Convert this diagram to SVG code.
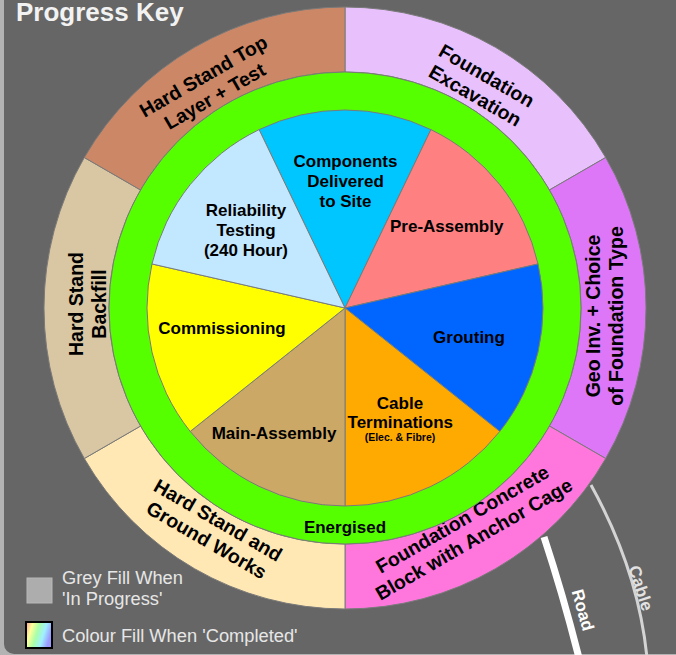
<svg xmlns="http://www.w3.org/2000/svg" width="676" height="655" viewBox="0 0 676 655">
<defs>
<linearGradient id="rainbow" x1="0" y1="0" x2="1" y2="0.3">
<stop offset="0" stop-color="#ff9a9a"/>
<stop offset="0.25" stop-color="#ffff9a"/>
<stop offset="0.5" stop-color="#a8ffa8"/>
<stop offset="0.75" stop-color="#a0f0ff"/>
<stop offset="1" stop-color="#9a9aff"/>
</linearGradient>
<style>
.seg{stroke:#7a7a7a;stroke-width:1;}
.ol{font-family:"Liberation Sans",Arial,sans-serif;font-weight:bold;font-size:19.5px;fill:#000;text-anchor:middle;}
.pl{font-family:"Liberation Sans",Arial,sans-serif;font-weight:bold;font-size:17px;fill:#000;text-anchor:middle;}
.sm{font-family:"Liberation Sans",Arial,sans-serif;font-weight:bold;font-size:10.5px;fill:#000;text-anchor:middle;}
.lg{font-family:"Liberation Sans",Arial,sans-serif;font-size:18.3px;fill:#e6e6e6;}
.rl{font-family:"Liberation Sans",Arial,sans-serif;font-weight:bold;font-size:17px;text-anchor:middle;}
</style>
</defs>
<rect x="0" y="0" width="676" height="655" fill="#b3b3b3"/>
<rect x="4" y="-30" width="720" height="684" rx="10" fill="#666666"/>
<text x="16" y="21" font-family="Liberation Sans,Arial,sans-serif" font-weight="bold" font-size="26" fill="#f2f2f2">Progress Key</text>

<g id="connectors">
<path d="M544,537 Q562.8,594 579,658" fill="none" stroke="#ffffff" stroke-width="7"/>
<path d="M591,485 Q638.5,571 647,658" fill="none" stroke="#d4d4d4" stroke-width="3"/>
<text class="rl" fill="#ffffff" transform="translate(583,610) rotate(74)" y="6">Road</text>
<text class="rl" fill="#e2e2e2" transform="translate(641,588) rotate(72)" y="6">Cable</text>
</g>

<g id="outer-ring">
<g id="foundation-excavation">
<path class="seg" fill="#e8c0fc" d="M345,7 A301,301 0 0 1 605.68,157.5 L549.38,190 A236,236 0 0 0 345,72 Z"/>
<g transform="translate(481,85.5) rotate(30)"><text class="ol" y="-4.5">Foundation</text><text class="ol" y="18.5">Excavation</text></g>
</g>
<g id="geo-inv">
<path class="seg" fill="#dd77f7" d="M605.68,157.5 A301,301 0 0 1 605.68,458.5 L549.38,426 A236,236 0 0 0 549.38,190 Z"/>
<g transform="translate(604.6,316) rotate(-90)"><text class="ol" y="-4.5">Geo Inv. + Choice</text><text class="ol" y="18.5">of Foundation Type</text></g>
</g>
<g id="foundation-concrete">
<path class="seg" fill="#ff77dd" d="M605.68,458.5 A301,301 0 0 1 345,609 L345,544 A236,236 0 0 0 549.38,426 Z"/>
<g transform="translate(468,529) rotate(-30)"><text class="ol" y="-4.5">Foundation Concrete</text><text class="ol" y="18.5">Block with Anchor Cage</text></g>
</g>
<g id="hard-stand-ground-works">
<path class="seg" fill="#ffe8b4" d="M345,609 A301,301 0 0 1 84.32,458.5 L140.62,426 A236,236 0 0 0 345,544 Z"/>
<g transform="translate(212.5,530) rotate(30)"><text class="ol" y="-4.5">Hard Stand and</text><text class="ol" y="18.5">Ground Works</text></g>
</g>
<g id="hard-stand-backfill">
<path class="seg" fill="#d9c6a2" d="M84.32,458.5 A301,301 0 0 1 84.32,157.5 L140.62,190 A236,236 0 0 0 140.62,426 Z"/>
<g transform="translate(87,304) rotate(-90)"><text class="ol" y="-4.5">Hard Stand</text><text class="ol" y="18.5">Backfill</text></g>
</g>
<g id="hard-stand-top">
<path class="seg" fill="#cc8866" d="M84.32,157.5 A301,301 0 0 1 345,7 L345,72 A236,236 0 0 0 140.62,190 Z"/>
<g transform="translate(209,86) rotate(-30)"><text class="ol" y="-4.5">Hard Stand Top</text><text class="ol" y="18.5">Layer + Test</text></g>
</g>
</g>

<g id="energised">
<circle class="seg" cx="345" cy="308" r="236" fill="#55ff00"/>
<text class="pl" x="345" y="533">Energised</text>
</g>

<g id="inner-pie">
<g id="components">
<path class="seg" fill="#00c6ff" d="M345,308 L259.09,129.61 A198,198 0 0 1 430.91,129.61 Z"/>
<text class="pl" x="345.5" y="167">Components</text>
<text class="pl" x="345.5" y="187">Delivered</text>
<text class="pl" x="345.5" y="207">to Site</text>
</g>
<g id="pre-assembly">
<path class="seg" fill="#ff8080" d="M345,308 L430.91,129.61 A198,198 0 0 1 538.04,263.94 Z"/>
<text class="pl" x="446.7" y="232">Pre-Assembly</text>
</g>
<g id="grouting">
<path class="seg" fill="#0066ff" d="M345,308 L538.04,263.94 A198,198 0 0 1 499.8,431.45 Z"/>
<text class="pl" x="469" y="342.5">Grouting</text>
</g>
<g id="cable-terminations">
<path class="seg" fill="#ffaa00" d="M345,308 L499.8,431.45 A198,198 0 0 1 345,506 Z"/>
<text class="pl" x="400" y="409">Cable</text>
<text class="pl" x="400.3" y="428">Terminations</text>
<text class="sm" x="400" y="441">(Elec. &amp; Fibre)</text>
</g>
<g id="main-assembly">
<path class="seg" fill="#cca866" d="M345,308 L345,506 A198,198 0 0 1 190.2,431.45 Z"/>
<text class="pl" x="274" y="439">Main-Assembly</text>
</g>
<g id="commissioning">
<path class="seg" fill="#ffff00" d="M345,308 L190.2,431.45 A198,198 0 0 1 151.96,263.94 Z"/>
<text class="pl" x="222" y="334">Commissioning</text>
</g>
<g id="reliability">
<path class="seg" fill="#c2e8ff" d="M345,308 L151.96,263.94 A198,198 0 0 1 259.09,129.61 Z"/>
<text class="pl" x="246" y="215.5">Reliability</text>
<text class="pl" x="246" y="235.5">Testing</text>
<text class="pl" x="246" y="255.5">(240 Hour)</text>
</g>
</g>

<g id="legend">
<rect x="27" y="578" width="25" height="25" fill="#adadad" stroke="#b8b8b8" stroke-width="1"/>
<text class="lg" x="62" y="583.5">Grey Fill When</text>
<text class="lg" x="62" y="604.5">'In Progress'</text>
<rect x="26" y="622" width="26" height="26" fill="url(#rainbow)" stroke="#000" stroke-width="2"/>
<text class="lg" x="62" y="641.5">Colour Fill When 'Completed'</text>
</g>
</svg>
